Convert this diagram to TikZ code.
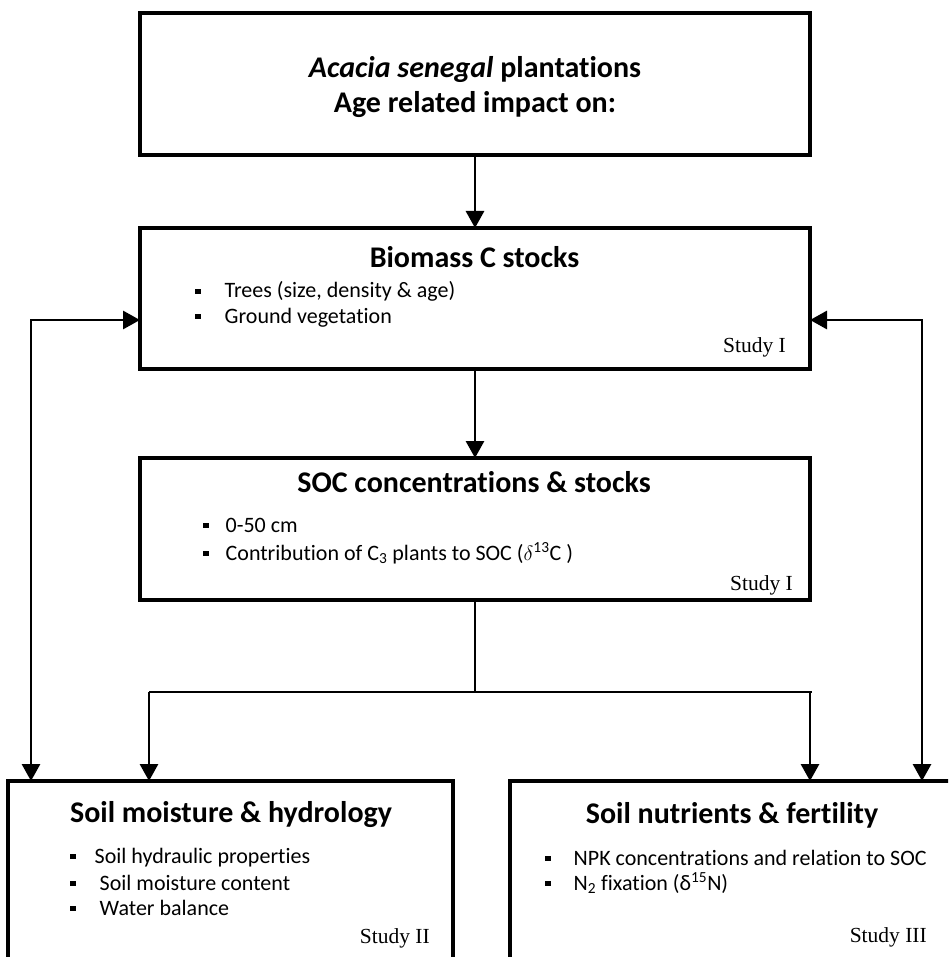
\documentclass[tikz,border=0pt]{standalone}
\usepackage{fontspec}
\setmainfont{Carlito}[Ligatures={NoCommon}]
\newfontfamily\studyfont{Liberation Serif}
\usetikzlibrary{arrows.meta}
\newcommand\sqb{\rule[4pt]{5.5pt}{5.5pt}}
\begin{document}
\begin{tikzpicture}[x=1pt,y=-1pt,
  box/.style={draw, line width=3.5pt, inner sep=0pt, outer sep=0pt},
  conn/.style={line width=2.9pt, -{Triangle[length=17pt,width=18pt]}},
  plain/.style={line width=2.9pt},
  ttl/.style={font=\fontsize{30}{36}\selectfont\bfseries, inner sep=0pt, anchor=base},
  itm/.style={font=\fontsize{22}{26}\selectfont, inner sep=0pt, anchor=base west},
  stdy/.style={font=\studyfont\fontsize{21.5}{26}\selectfont, inner sep=0pt, anchor=base east}]
\useasboundingbox (0,0) rectangle (948,957);
\fill[white] (0,0) rectangle (948,957);
\clip (0,0) rectangle (948,957);

% boxes
\node[box, minimum width=670pt, minimum height=142pt] (top) at (475,84) {};
\node[box, minimum width=670pt, minimum height=141pt] (bio) at (475,298.5) {};
\node[box, minimum width=670pt, minimum height=142pt] (soc) at (475,529) {};
\node[box, minimum width=445pt, minimum height=209pt] (hyd) at (230.5,885.5) {};
\node[box, minimum width=445pt, minimum height=209pt] (nut) at (732.5,885.5) {};

% texts
\node[ttl] (t1) at (475,78) {\textit{Acacia senegal} plantations};
\node[ttl] (t2) at (475,113) {Age related impact on:};

\node[ttl] (b0) at (474.5,268) {Biomass C stocks};
\node[itm] (b1) at (195,298) {\sqb\hspace{24pt}Trees (size, density \& age)};
\node[itm] (b2) at (195,323) {\sqb\hspace{24pt}Ground vegetation};
\node[stdy] (b3) at (786,352) {Study I};

\node[ttl] (s0) at (474,492) {SOC concentrations \& stocks};
\node[itm] (s1) at (203,532) {\sqb\hspace{17pt}0-50 cm};
\node[itm] (s2) at (203,560) {\sqb\hspace{17pt}Contribution of C\textsubscript{3} plants to SOC ($\delta$\textsuperscript{13}C )};
\node[stdy] (s3) at (793,590) {Study I};

\node[ttl] (h0) at (231,822) {Soil moisture \& hydrology};
\node[itm] (h1) at (70,863) {\sqb\hspace{19pt}Soil hydraulic properties};
\node[itm] (h2) at (70,890) {\sqb\hspace{24pt}Soil moisture content};
\node[itm] (h3) at (70,915) {\sqb\hspace{24pt}Water balance};
\node[stdy] (h4) at (430,943) {Study II};

\node[ttl] (n0) at (732,823) {Soil nutrients \& fertility};
\node[itm] (n1) at (545,865) {\sqb\hspace{23pt}NPK concentrations and relation to SOC};
\node[itm] (n2) at (545,890) {\sqb\hspace{23pt}N\textsubscript{2} fixation (δ\textsuperscript{15}N)};
\node[stdy] (n3) at (927,942) {Study III};

% connectors
\draw[conn] (top.south) -- (bio.north);
\draw[conn] (bio.south) -- (soc.north);
\coordinate (J) at (475,692);
\coordinate (JL) at (149,692);
\coordinate (JR) at (810,692);
\draw[plain] (soc.south) -- (J);
\draw[plain] (JL) -- (812,692);
\draw[conn] (JL) -- (JL |- hyd.north);
\draw[conn] (JR) -- (JR |- nut.north);

\coordinate (L) at (31,320);
\coordinate (R) at (922,320);
\draw[conn, {Triangle[length=17pt,width=18pt]}-{Triangle[length=17pt,width=18pt]}]
  ([yshift=-21.5pt]bio.west) -- (L) -- (L |- hyd.north);
\draw[conn, {Triangle[length=17pt,width=18pt]}-{Triangle[length=17pt,width=18pt]}]
  ([yshift=-21.5pt]bio.east) -- (R) -- (R |- nut.north);
\end{tikzpicture}
\end{document}
